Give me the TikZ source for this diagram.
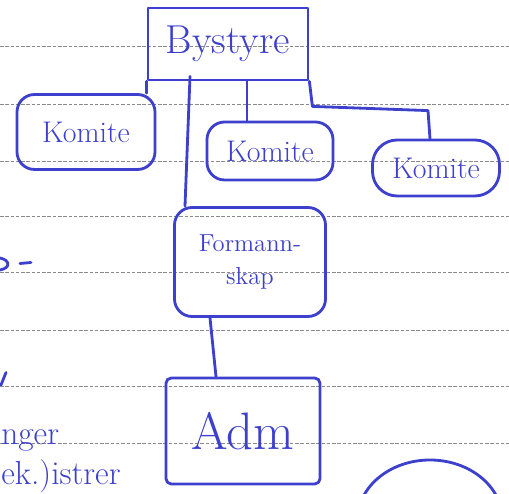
\documentclass[tikz,border=0pt]{standalone}
\usetikzlibrary{positioning,calc}
\definecolor{inkblue}{HTML}{3C40CC}
\definecolor{rulegray}{HTML}{8A8A8A}

\begin{document}
\begin{tikzpicture}[
    ink/.style={draw=inkblue, line width=1.6pt, line cap=round, line join=round},
    orgbox/.style={ink, text=inkblue, align=center, inner sep=0pt},
    komitebox/.style={orgbox, rounded corners=10pt, font=\fontsize{17}{19}\selectfont},
    link/.style={ink},
    ruleline/.style={draw=rulegray, line width=0.5pt, dash pattern=on 2pt off 1pt},
    margintext/.style={text=inkblue, inner sep=0pt, font=\fontsize{19}{21}\selectfont}
]
\useasboundingbox (0,0) rectangle (10.18,-9.88);

% ruled paper
\foreach \y in {0.92,2.08,3.22,4.32,5.44,6.6,7.72,8.86}
    \draw[ruleline] (0,-\y) -- (10.18,-\y);

\node[orgbox, minimum width=3.2cm, minimum height=1.44cm,
    font=\fontsize{23}{26}\selectfont] (bystyre) at (4.56,-0.88) {Bystyre};

\node[komitebox, minimum width=2.76cm, minimum height=1.5cm] (komiteA) at (1.72,-2.64) {Komite};
\node[komitebox, minimum width=2.52cm, minimum height=1.16cm] (komiteB) at (5.4,-3.02) {Komite};
\node[komitebox, rounded corners=14pt, minimum width=2.54cm, minimum height=1.12cm] (komiteC) at (8.72,-3.36) {Komite};

\node[orgbox, rounded corners=10pt, minimum width=3.02cm, minimum height=2.18cm,
    font=\fontsize{14}{19}\selectfont] (formannskap) at (5.0,-5.24) {Formann-\\skap};
\node[orgbox, rounded corners=3pt, minimum width=3.08cm, minimum height=2.12cm,
    font=\fontsize{30}{32}\selectfont] (adm) at (4.86,-8.62) {Adm};

% connectors
\draw[link] (bystyre.south west) -- (bystyre.south west |- komiteA.north);
\draw[link] ([xshift=-0.46cm]komiteB.north) -- ([xshift=-0.46cm]komiteB.north |- bystyre.south);
\draw[link] (bystyre.south east) -- ++(0.06,-0.5)
    -- ([xshift=-0.16cm,yshift=0.56cm]komiteC.north) -- ([xshift=-0.12cm]komiteC.north);
\draw[link] ([xshift=-0.76cm,yshift=0.1cm]bystyre.south) -- ([xshift=-1.3cm]formannskap.north);
\draw[link] ([xshift=-0.8cm]formannskap.south) -- ([xshift=-0.54cm]adm.north);

% notes at the page edges
\draw[ink] (0,-5.16) .. controls (0.2,-5.2) and (0.22,-5.36) .. (0,-5.4);
\draw[ink] (0.4,-5.27) -- (0.62,-5.25);
\draw[ink] (0.12,-7.45) -- (0.02,-7.7);
\node[margintext, anchor=base west] (margin1) at (0.02,-8.9) {nger};
\node[margintext, anchor=south west] (margin2) at (0.02,-9.86) {ek.)istrer};
\draw[ink] (8.6,-10.4) ellipse (1.45 and 1.2);
\end{tikzpicture}
\end{document}
